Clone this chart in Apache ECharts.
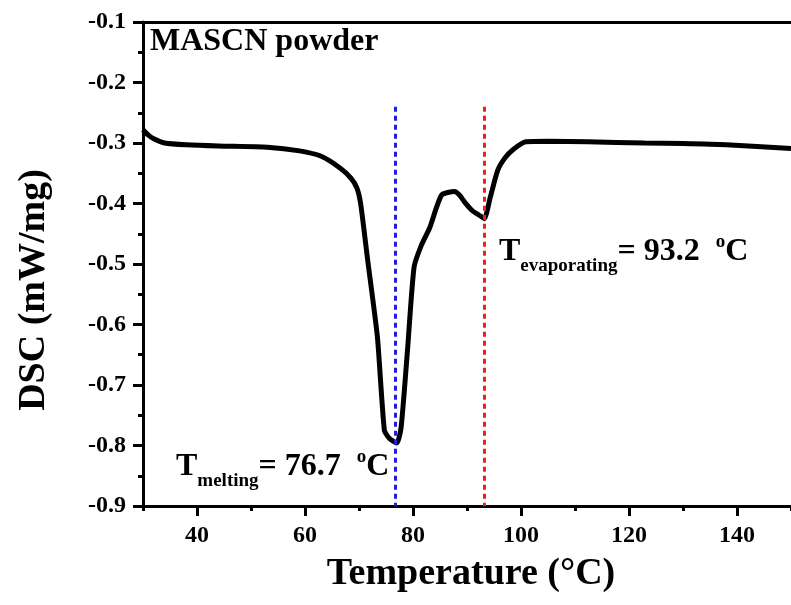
<!DOCTYPE html>
<html>
<head>
<meta charset="utf-8">
<script src="https://cdn.jsdelivr.net/npm/echarts@6/dist/echarts.min.js"></script>
<style>
	html, body { margin: 0; padding: 0; background: #fff; }
	#chart { width: 791px; height: 605px; }
</style>
</head>
<body>
<div id="chart"></div>
<script>
	// 温度 (°C)
	var temps = [30, 31, 32, 34, 38, 44, 53, 59, 63, 66.6, 68.5, 69.6, 70.3, 71.6, 73.4, 74.7, 75.6, 77.0, 77.8, 79.0, 80.2, 81.5, 83.1, 85.3, 87.7, 88.6, 89.6, 91.0, 92.2, 93.2, 94.3, 95.7, 97, 98.5, 100.9, 105, 112.4, 122.9, 130, 138, 150];
	// DSC (mW/mg)
	var dsc = [-0.278, -0.287, -0.293, -0.300, -0.303, -0.305, -0.307, -0.313, -0.322, -0.342, -0.358, -0.374, -0.400, -0.493, -0.62, -0.775, -0.788, -0.796, -0.77, -0.64, -0.505, -0.47, -0.44, -0.386, -0.380, -0.386, -0.398, -0.412, -0.419, -0.425, -0.39, -0.345, -0.325, -0.311, -0.298, -0.297, -0.298, -0.300, -0.301, -0.303, -0.309];
	// 特征温度
	var tMelting = 76.7;
	var tEvap = 93.2;
	var xMajor = [40, 60, 80, 100, 120, 140];

	var serif = "'Liberation Serif', 'DejaVu Serif', serif";
	var blue = '#1e1ee0';
	var red = '#ec2020';
	var curve = [];
	for(var i = 0; i < temps.length; i++) {
		curve.push([temps[i], dsc[i]]);
	}

	var myChart = echarts.init(document.getElementById('chart'));

	function big(color) {
		return { fontSize: 32, fontWeight: 'bold', fontFamily: serif, color: color, lineHeight: 48, verticalAlign: 'middle' };
	}
	function sub(color) {
		return { fontSize: 19, fontWeight: 'bold', fontFamily: serif, color: color, verticalAlign: 'bottom', lineHeight: 18 };
	}
	function sup(color) {
		return { fontSize: 19, fontWeight: 'bold', fontFamily: serif, color: color, verticalAlign: 'top', lineHeight: 22, padding: [5, 0, 0, 0] };
	}

	var axisLineStyle = { show: true, onZero: false, lineStyle: { color: '#000', width: 3 } };

	var option = {
		animation: false,
		grid: { left: 143, top: 22, right: -8, bottom: 99, containLabel: false },
		xAxis: [{
			// 短刻度：每10度
			type: 'value',
			min: 30, max: 150, interval: 10,
			axisLine: axisLineStyle,
			axisTick: { show: true, inside: false, length: 5, lineStyle: { color: '#000', width: 3 } },
			splitLine: { show: false },
			axisLabel: {
				margin: 18, fontSize: 24, fontWeight: 'bold', fontFamily: serif, color: '#000',
				customValues: xMajor
			}
		}, {
			// 长刻度：每20度
			type: 'value', position: 'bottom',
			min: 30, max: 150, interval: 10,
			axisLine: axisLineStyle,
			axisTick: { show: true, inside: false, length: 10, customValues: xMajor, lineStyle: { color: '#000', width: 3 } },
			axisLabel: { show: false }, splitLine: { show: false }
		}, {
			type: 'value', position: 'top',
			min: 30, max: 150,
			axisLine: axisLineStyle,
			axisTick: { show: false }, axisLabel: { show: false }, splitLine: { show: false }
		}],
		yAxis: [{
			type: 'value',
			min: -0.9, max: -0.1, interval: 0.1,
			axisLine: axisLineStyle,
			axisTick: { show: true, inside: false, length: 10, lineStyle: { color: '#000', width: 3 } },
			minorTick: { show: true, splitNumber: 2, length: 5, lineStyle: { color: '#000', width: 3 } },
			splitLine: { show: false },
			minorSplitLine: { show: false },
			axisLabel: {
				margin: 17, fontSize: 24, fontWeight: 'bold', fontFamily: serif, color: '#000',
				formatter: function(v) { return v.toFixed(1); }
			}
		}],
		series: [{
			type: 'line',
			data: curve,
			showSymbol: false,
			smooth: 0.2,
			lineStyle: { color: '#000', width: 5 },
			z: 3,
			markLine: {
				silent: true,
				symbol: ['none', 'none'],
				label: { show: false },
				z: 4,
				data: [
					[{ coord: [tMelting, -0.24], lineStyle: { color: blue, width: 3, type: [5, 4] } }, { coord: [tMelting, -0.9] }],
					[{ coord: [tEvap, -0.24], lineStyle: { color: red, width: 3, type: [5, 4] } }, { coord: [tEvap, -0.9] }]
				]
			}
		}],
		graphic: [{
			type: 'text', left: 150, top: 26,
			style: { text: 'MASCN powder', fontSize: 32, fontWeight: 'bold', fontFamily: serif, fill: '#000' }
		}, {
			type: 'text', x: 34, y: 290, rotation: Math.PI / 2,
			style: { text: 'DSC (mW/mg)', fontSize: 38, fontWeight: 'bold', fontFamily: serif, fill: '#000', align: 'center', verticalAlign: 'middle' }
		}, {
			type: 'text', x: 471, y: 574,
			style: { text: 'Temperature (°C)', fontSize: 38, fontWeight: 'bold', fontFamily: serif, fill: '#000', align: 'center', verticalAlign: 'middle' }
		}, {
			type: 'text', left: 176, top: 443,
			style: {
				text: '{t|T}{s|melting}{m|= 76.7  }{o|o}{m|C}',
				rich: { t: big(blue), s: sub(blue), m: big(blue), o: sup(blue) }
			}
		}, {
			type: 'text', left: 499, top: 228,
			style: {
				text: '{t|T}{s|evaporating}{m|= 93.2  }{o|o}{m|C}',
				rich: { t: big(red), s: sub(red), m: big(red), o: sup(red) }
			}
		}]
	};
	myChart.setOption(option);
</script>
</body>
</html>
